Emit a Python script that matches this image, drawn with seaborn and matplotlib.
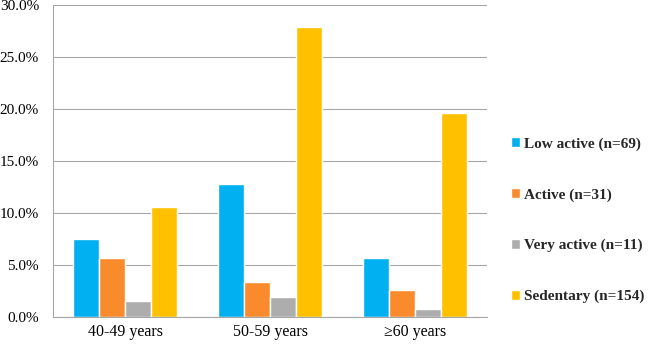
import matplotlib.pyplot as plt
import numpy as np
import pandas as pd
import seaborn as sns
from matplotlib.ticker import PercentFormatter, FixedLocator

age_groups = ['40-49 years', '50-59 years', '\u226560 years']
activity = ['Low active (n=69)', 'Active (n=31)', 'Very active (n=11)', 'Sedentary (n=154)']
low_active = [7.5, 12.8, 5.7]
active = [5.7, 3.4, 2.6]
very_active = [1.5, 1.9, 0.8]
sedentary = [10.6, 27.9, 19.6]
colors = ['#00B0F0', '#F98B2C', '#ADADAD', '#FFC000']

df = pd.DataFrame({
    'age': age_groups * 4,
    'activity': np.repeat(activity, len(age_groups)),
    'pct': low_active + active + very_active + sedentary,
})

sns.set_style('white')
plt.rcParams['font.family'] = ['Liberation Serif', 'DejaVu Serif']

fig = plt.figure(figsize=(6.53, 3.45), dpi=100)
ax = fig.add_axes([0.081, 0.081, 0.665, 0.905])

sns.barplot(data=df, x='age', y='pct', hue='activity', hue_order=activity,
            order=age_groups, palette=colors, width=0.72, saturation=1,
            ax=ax, errorbar=None)

ax.set_ylim(0, 30)
ax.set_yticks(np.arange(0, 31, 5))
ax.yaxis.set_major_formatter(PercentFormatter(decimals=1))
ax.set_xlim(-0.5, 2.5)
ax.grid(axis='y', color='#A6A6A6', linewidth=0.8)
ax.set_axisbelow(True)
ax.set_xlabel('')
ax.set_ylabel('')

for s in ['top', 'right']:
    ax.spines[s].set_visible(False)
ax.spines['left'].set_color('#A6A6A6')
ax.spines['bottom'].set_color('#A6A6A6')
ax.tick_params(axis='y', labelsize=11, colors='black', length=0, pad=10)
ax.tick_params(axis='x', labelsize=11.5, colors='black', length=0, pad=5)
ax.xaxis.set_minor_locator(FixedLocator([-0.5, 0.5, 1.5, 2.5]))
ax.tick_params(axis='x', which='minor', length=5, color='#A6A6A6', direction='out')

handles, labels = ax.get_legend_handles_labels()
ax.legend(handles, labels, loc='center left', bbox_to_anchor=(1.04, 0.31),
          frameon=False, prop={'weight': 'bold', 'size': 11},
          handlelength=0.6, handleheight=0.6, handletextpad=0.3,
          labelspacing=2.45, borderaxespad=0)

fig.savefig('out.png', dpi=100)
